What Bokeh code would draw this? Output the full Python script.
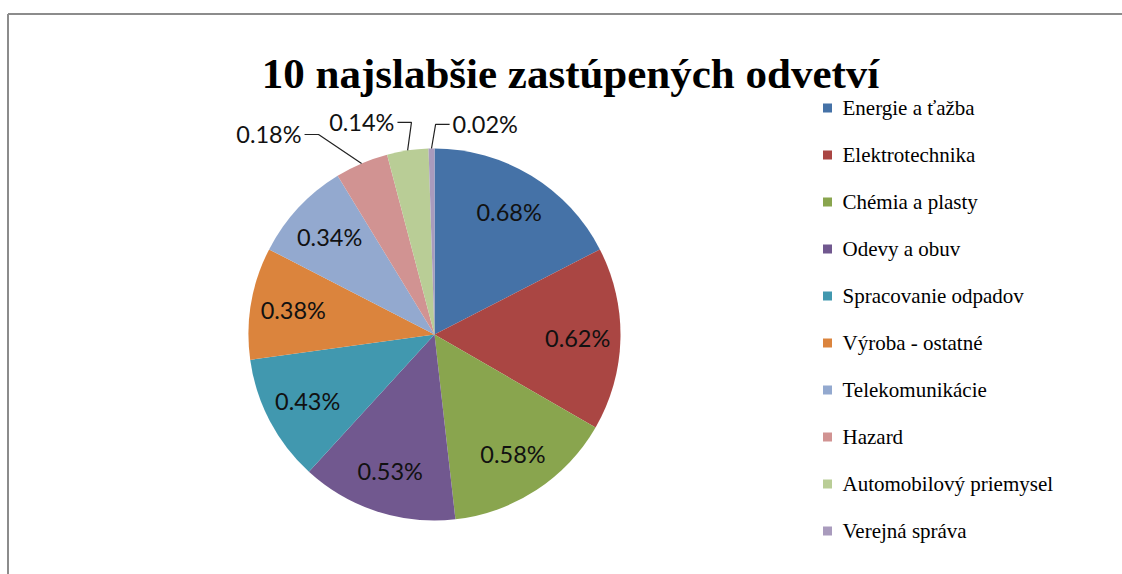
import numpy as np
from bokeh.plotting import figure
from bokeh.models import Range1d, ColumnDataSource
from bokeh.core.properties import value
from bokeh.embed import file_html
from bokeh.resources import INLINE

# ---------------- data ----------------
title = "10 najslabšie zastúpených odvetví"
categories = ["Energie a ťažba", "Elektrotechnika", "Chémia a plasty", "Odevy a obuv",
              "Spracovanie odpadov", "Výroba - ostatné", "Telekomunikácie", "Hazard",
              "Automobilový priemysel", "Verejná správa"]
values = [0.68, 0.62, 0.58, 0.53, 0.43, 0.38, 0.34, 0.18, 0.14, 0.02]
labels = ["0.68%", "0.62%", "0.58%", "0.53%", "0.43%", "0.38%", "0.34%", "0.18%", "0.14%", "0.02%"]
colors = ["#4572A7", "#AA4643", "#89A54E", "#71588F", "#4198AF",
          "#DB843D", "#93A9CF", "#D19392", "#B9CD96", "#A99BBD"]

# ---------------- layout (picture-pixel coordinates, y negated) ----------------
W, H = 1122, 574
CX, CY, R = 434, -334, 186
LABEL_R = 0.77
# outside labels: slice index -> (elbow angle deg, elbow radius factor, side)
outer = {7: (120.1, 1.243, "left"), 8: (96.2, 1.147, "left"), 9: (89.7, 1.13, "right")}
SEG = 14
GAP = 3
FRAME_X, FRAME_Y = 7.5, -13.5

p = figure(width=W, height=H, x_range=Range1d(0, W), y_range=Range1d(-H, 0),
           min_border=0, toolbar_location=None, output_backend="svg",
           x_axis_location=None, y_axis_location=None)
p.grid.visible = False
p.outline_line_color = None
p.background_fill_color = "white"
p.border_fill_color = "white"

# chart frame (only left/top visible, rest runs off the picture)
p.segment(x0=[FRAME_X, FRAME_X], y0=[FRAME_Y, FRAME_Y], x1=[FRAME_X, W + 50],
          y1=[-H - 50, FRAME_Y], line_color="#8c8c8c", line_width=2)

vals = np.array(values, dtype=float)
frac = vals / vals.sum()
cum = np.concatenate([[0.0], np.cumsum(frac)])
start_deg = 90 - cum[:-1] * 360
end_deg = 90 - cum[1:] * 360
mid_deg = (start_deg + end_deg) / 2

src = ColumnDataSource(dict(start=np.radians(end_deg), end=np.radians(start_deg),
                            color=colors, cat=categories))
p.wedge(x=CX, y=CY, radius=R, start_angle="start", end_angle="end",
        fill_color="color", line_color=None, source=src)

# inside labels
in_idx = [i for i in range(len(values)) if i not in outer]
lx = [CX + LABEL_R * R * np.cos(np.radians(mid_deg[i])) for i in in_idx]
ly = [CY + LABEL_R * R * np.sin(np.radians(mid_deg[i])) for i in in_idx]
p.text(x=lx, y=ly, text=[labels[i] for i in in_idx], text_align="center",
       text_baseline="middle", text_font=value("Lato"), text_font_size="23.5px",
       text_color="#111111")

# outside labels with leader lines
xs, ys, tx, ty, tt, ta = [], [], [], [], [], []
for i, (ang, rf, side) in outer.items():
    sx = CX + R * np.cos(np.radians(mid_deg[i]))
    sy = CY + R * np.sin(np.radians(mid_deg[i]))
    ex = CX + rf * R * np.cos(np.radians(ang))
    ey = CY + rf * R * np.sin(np.radians(ang))
    hx = ex - SEG if side == "left" else ex + SEG
    xs.append([sx, ex, hx])
    ys.append([sy, ey, ey])
    tx.append(hx - GAP if side == "left" else hx + GAP)
    ty.append(ey)
    tt.append(labels[i])
    ta.append("right" if side == "left" else "left")
p.multi_line(xs=xs, ys=ys, line_color="#222222", line_width=1.2)
p.text(x=tx, y=ty, text=tt, text_align=ta, text_baseline="alphabetic",
       text_font=value("Lato"), text_font_size="23.5px", text_color="#111111")

# title
p.text(x=[570], y=[-73], text=[title], text_align="center", text_baseline="alphabetic",
       text_font=value("Liberation Serif"), text_font_size="43px", text_font_style="bold",
       text_color="#000000")

# legend
LX, LY0, LDY = 827, -107.5, 47.0
ly_rows = [LY0 - k * LDY for k in range(len(categories))]
p.scatter(x=[LX] * len(categories), y=ly_rows, marker="square", size=9,
          fill_color=colors, line_color=None)
p.text(x=[LX + 15] * len(categories), y=ly_rows, text=categories, text_align="left",
       text_baseline="middle", text_font=value("Liberation Serif"), text_font_size="21px",
       text_color="#000000")

open("out.html", "w").write(file_html(p, INLINE))
